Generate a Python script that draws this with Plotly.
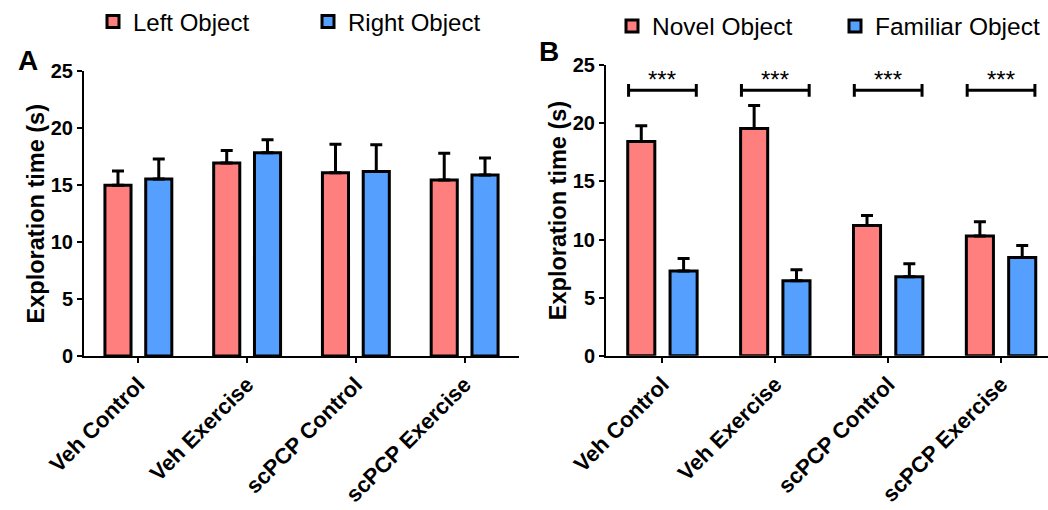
import plotly.graph_objects as go

groups = ["Veh Control", "Veh Exercise", "scPCP Control", "scPCP Exercise"]

# Panel A
left_obj = [15.0, 16.95, 16.1, 15.45]
left_err = [1.25, 1.1, 2.5, 2.35]
right_obj = [15.55, 17.85, 16.2, 15.9]
right_err = [1.75, 1.15, 2.35, 1.5]

# Panel B
novel_obj = [18.45, 19.55, 11.2, 10.3]
novel_err = [1.35, 2.0, 0.86, 1.23]
familiar_obj = [7.3, 6.45, 6.8, 8.45]
familiar_err = [1.06, 0.95, 1.12, 1.03]

sig_labels = ["***", "***", "***", "***"]
sig_y = 22.85

RED = "#FF7F7F"
BLUE = "#559FFF"
FONT = "Liberation Sans, Arial, sans-serif"

fig = go.Figure()

def add_bar(name, x, y, err, color, xa, ya, legend):
    fig.add_trace(go.Bar(
        name=name, x=x, y=y, xaxis=xa, yaxis=ya, legend=legend,
        marker=dict(color=color, line=dict(color="black", width=3)),
        error_y=dict(type="data", array=err, arrayminus=[0] * len(err),
                     symmetric=False, color="black", thickness=3, width=6),
    ))

add_bar("Left Object", groups, left_obj, left_err, RED, "x", "y", "legend")
add_bar("Right Object", groups, right_obj, right_err, BLUE, "x", "y", "legend")
add_bar("Novel Object", groups, novel_obj, novel_err, RED, "x2", "y2", "legend2")
add_bar("Familiar Object", groups, familiar_obj, familiar_err, BLUE, "x2", "y2", "legend2")

xax = dict(
    type="category", range=[-0.5, 3.5], showline=True, linecolor="black", linewidth=2,
    ticks="outside", ticklen=5, tickwidth=2, tickcolor="black", tickangle=-45,
    tickfont=dict(family=FONT, size=22, color="black", weight="bold"),
    showgrid=False, zeroline=False, automargin=False,
)
yax = dict(
    range=[0, 25], tickvals=[0, 5, 10, 15, 20, 25], showline=True, linecolor="black",
    linewidth=2, ticks="outside", ticklen=5, tickwidth=2, tickcolor="black",
    tickfont=dict(family=FONT, size=20, color="black", weight="bold"),
    showgrid=False, zeroline=False, automargin=False,
    title=dict(text="Exploration time (s)", font=dict(family=FONT, size=23.5, color="black", weight="bold"), standoff=0),
)

fig.update_layout(
    width=1048, height=510,
    margin=dict(l=0, r=0, t=0, b=0, autoexpand=False),
    plot_bgcolor="white", paper_bgcolor="white",
    barmode="group", bargap=0.25, bargroupgap=0.36,
    xaxis=dict(xax, domain=[84 / 1048, 519 / 1048], anchor="y"),
    yaxis=dict(yax, domain=[154 / 510, 438.6 / 510], anchor="x"),
    xaxis2=dict(xax, domain=[606 / 1048, 1.0], anchor="y2", range=[-0.5, 3.416]),
    yaxis2=dict(yax, domain=[154.3 / 510, 444.7 / 510], anchor="x2"),
    legend=dict(orientation="h", x=93 / 1048, y=1 - 22 / 510, xanchor="left", yanchor="middle",
                entrywidth=170, entrywidthmode="pixels",
                font=dict(family=FONT, size=24, color="black"), bgcolor="rgba(0,0,0,0)"),
    legend2=dict(orientation="h", x=612 / 1048, y=1 - 26 / 510, xanchor="left", yanchor="middle",
                 entrywidth=178, entrywidthmode="pixels",
                 font=dict(family=FONT, size=24.5, color="black"), bgcolor="rgba(0,0,0,0)"),
    showlegend=True,
)

# panel labels
fig.add_annotation(text="<b>A</b>", xref="paper", yref="paper", x=28 / 1048, y=1 - 60 / 510,
                   xanchor="center", yanchor="middle",
                   showarrow=False, font=dict(family=FONT, size=28, color="black"))
fig.add_annotation(text="<b>B</b>", xref="paper", yref="paper", x=549 / 1048, y=1 - 52 / 510,
                   xanchor="center", yanchor="middle",
                   showarrow=False, font=dict(family=FONT, size=28, color="black"))

# significance brackets
for i, lab in enumerate(sig_labels):
    fig.add_shape(type="line", xref="x2", yref="y2", x0=i - 0.3, x1=i + 0.3, y0=sig_y, y1=sig_y,
                  line=dict(color="black", width=3))
    for xe in (i - 0.3, i + 0.3):
        fig.add_shape(type="line", xref="x2", yref="y2", x0=xe, x1=xe, y0=sig_y - 0.55, y1=sig_y + 0.55,
                      line=dict(color="black", width=3))
    fig.add_annotation(text=lab, xref="x2", yref="y2", x=i, y=sig_y, yanchor="bottom", yshift=-5,
                       showarrow=False, font=dict(family=FONT, size=24, color="black"))

fig.write_html("out.html")
